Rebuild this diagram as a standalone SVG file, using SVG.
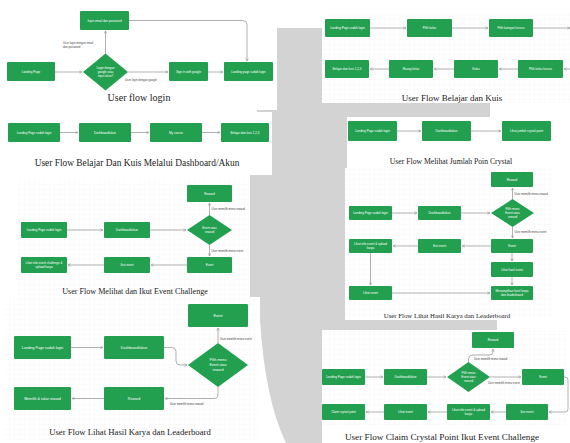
<svg xmlns="http://www.w3.org/2000/svg" width="570" height="443" viewBox="0 0 570 443">
<defs>
<pattern id="grid" width="5" height="5" patternUnits="userSpaceOnUse">
<path d="M5,0 V5 H0" fill="none" stroke="#ececec" stroke-width="0.4"/>
</pattern>
<marker id="arr" viewBox="0 0 6 6" refX="5.5" refY="3" markerWidth="3.2" markerHeight="3.2" markerUnits="userSpaceOnUse" orient="auto">
<path d="M0.5,0.5 L5.5,3 L0.5,5.5" fill="none" stroke="#8f8f8f" stroke-width="1"/>
</marker>
<style>
.box{fill:#23a04f}
.t{fill:#fff;font-family:"Liberation Sans","Noto Sans",Arial,sans-serif;font-size:3px;text-anchor:middle}
.t4{fill:#fff;font-family:"Liberation Sans","Noto Sans",Arial,sans-serif;font-size:3.6px;text-anchor:middle}
.lbl{fill:#444;font-family:"Liberation Sans","Noto Sans",Arial,sans-serif;font-size:2.8px}
.cap{fill:#222;font-family:"Liberation Serif","Times New Roman",serif;text-anchor:middle}
.e{fill:none;stroke:#8f8f8f;stroke-width:0.7;marker-end:url(#arr)}
.gp{fill:url(#grid)}
</style>
</defs>
<rect width="570" height="443" fill="#fff"/>
<path id="bg-shape" d="M277,28 H322 V103 H490 V117 H347 V168 H345 V320 H497 V330 H322 V443 H286 Q265,400 260,320 V297 H250 V175 H272 V112 H257 V103 H277 Z" fill="#d3d3d3"/>
<!-- panel backgrounds -->
<rect x="0" y="0" width="277" height="110" fill="#fff"/>
<rect x="322" y="0" width="248" height="103" fill="#fff"/>
<rect x="322" y="14" width="248" height="89" class="gp"/>
<rect x="0" y="112" width="272" height="63" fill="#fff"/>
<rect x="347" y="117" width="208" height="50" fill="#fff"/>
<rect x="0" y="175" width="250" height="122" fill="#fff"/>
<rect x="18" y="180" width="230" height="117" class="gp"/>
<rect x="345" y="168" width="207" height="152" fill="#fff"/>
<rect x="345" y="168" width="207" height="150" class="gp"/>
<rect x="0" y="297" width="259" height="146" fill="#fff"/>
<rect x="5" y="297" width="253" height="143" class="gp"/>
<rect x="322" y="330" width="248" height="113" fill="#fff"/>
<rect x="322" y="330" width="245" height="95" class="gp"/>

<g id="connectors">
<!-- P1 -->
<path class="e" d="M55,72 H82"/>
<path class="e" d="M105.5,53.5 V31"/>
<path class="e" d="M129,20.5 H243 Q247,20.5 247,24.5 V61"/>
<path class="e" d="M128,72 H168"/>
<path class="e" d="M208,72 H223"/>
<!-- P2 -->
<path class="e" d="M370,28 H406"/>
<path class="e" d="M452,28 H488"/>
<path class="e" d="M533,28 H570"/>
<path class="e" d="M570,69 H564"/>
<path class="e" d="M518,69 H499"/>
<path class="e" d="M454,69 H434"/>
<path class="e" d="M389,69 H370"/>
<!-- P3 -->
<path class="e" d="M60,132.5 H78"/>
<path class="e" d="M131,132.5 H149"/>
<path class="e" d="M202,132.5 H220"/>
<!-- P4 -->
<path class="e" d="M397,131 H421"/>
<path class="e" d="M471,131 H501"/>
<!-- P5 -->
<path class="e" d="M67,230 H103"/>
<path class="e" d="M150,230 H186"/>
<path class="e" d="M209.5,215 V203"/>
<path class="e" d="M209.5,245 V256"/>
<path class="e" d="M187,265 H151"/>
<path class="e" d="M104,265 H68"/>
<!-- P6 -->
<path class="e" d="M392,213 H417"/>
<path class="e" d="M461,213 H490"/>
<path class="e" d="M512.5,199 V188"/>
<path class="e" d="M512.5,227 V238"/>
<path class="e" d="M491,246 H462"/>
<path class="e" d="M418,246 H393"/>
<path class="e" d="M370.5,253 V285"/>
<path class="e" d="M512,253 V261"/>
<path class="e" d="M512,277 V285"/>
<path class="e" d="M392,293 H490"/>
<!-- P7 -->
<path class="e" d="M71,347.5 H103"/>
<path class="e" d="M164,347.5 H172 Q176,347.5 176,351.5 V361 Q176,365 180,365 H187"/>
<path class="e" d="M218,343 V328"/>
<path class="e" d="M218,387 V394 Q218,398.5 214,398.5 H165"/>
<path class="e" d="M104,398.5 H72"/>
<!-- P8 -->
<path class="e" d="M365,377 H383"/>
<path class="e" d="M427,377 H446"/>
<path class="e" d="M468.5,362 V359 Q468.5,355 472.5,355 H489 Q493,355 493,352 V349"/>
<path class="e" d="M490,377 H521"/>
<path class="e" d="M564,377 H565 Q568,377 568,380 V409 Q568,412 565,412 H549"/>
<path class="e" d="M506,412 H491"/>
<path class="e" d="M447,412 H428"/>
<path class="e" d="M384,412 H366"/>
</g>

<!-- Panel 1 -->
<g id="p1-landing"><rect class="box" x="7" y="62" width="48" height="19" rx="1"/><text class="t" x="31" y="73">Landing Page</text></g>
<g id="p1-decision"><polygon class="box" points="105.5,53.5 128,72 105.5,90.5 83,72"/><text class="t" x="105.5" y="69">Login dengan</text><text class="t" x="105.5" y="73">google atau</text><text class="t" x="105.5" y="77">input akun?</text></g>
<g id="p1-input"><rect class="box" x="80" y="11" width="49" height="19" rx="1"/><text class="t" x="104.5" y="21.5">Input email dan password</text></g>
<g id="p1-google"><rect class="box" x="169" y="62" width="39" height="19" rx="1"/><text class="t" x="188.5" y="73">Sign in with google</text></g>
<g id="p1-done"><rect class="box" x="224" y="62" width="49" height="19" rx="1"/><text class="t" x="248.5" y="73">Landing page sudah login</text></g>
<g id="p1-labels"><text class="lbl" x="63" y="44">User login dengan email</text><text class="lbl" x="63" y="48">dan password</text><text class="lbl" x="125" y="80.5">User login dengan google</text></g>
<text class="cap" x="139" y="101" font-size="10">User flow login</text>

<!-- Panel 2 -->
<g id="p2-landing"><rect class="box" x="325" y="19" width="45" height="18" rx="1"/><text class="t" x="347.5" y="29">Landing Page sudah login</text></g>
<g id="p2-kelas"><rect class="box" x="407" y="19" width="45" height="18" rx="1"/><text class="t" x="429.5" y="29">Pilih kelas</text></g>
<g id="p2-kategori"><rect class="box" x="489" y="19" width="44" height="18" rx="1"/><text class="t" x="511" y="29">Pilih kategori kursus</text></g>
<g id="p2-belajar"><rect class="box" x="325" y="60" width="44" height="18" rx="1"/><text class="t" x="347" y="70">Belajar dan kuis 1,2,3</text></g>
<g id="p2-ruang"><rect class="box" x="389" y="60" width="44" height="18" rx="1"/><text class="t" x="411" y="70">Ruang kelas</text></g>
<g id="p2-kelas2"><rect class="box" x="454" y="60" width="44" height="18" rx="1"/><text class="t" x="476" y="70">Kelas</text></g>
<g id="p2-kursus"><rect class="box" x="518" y="60" width="45" height="18" rx="1"/><text class="t" x="540.5" y="70">Pilih kelas kursus</text></g>
<text class="cap" x="452" y="101" font-size="9">User Flow Belajar dan Kuis</text>

<!-- Panel 3 -->
<g id="p3-landing"><rect class="box" x="8" y="123" width="52" height="19" rx="1"/><text class="t" x="34" y="133.5">Landing Page sudah login</text></g>
<g id="p3-dash"><rect class="box" x="79" y="123" width="52" height="19" rx="1"/><text class="t" x="105" y="133.5">Dashboard/akun</text></g>
<g id="p3-course"><rect class="box" x="150" y="123" width="52" height="19" rx="1"/><text class="t" x="176" y="133.5">My course</text></g>
<g id="p3-belajar"><rect class="box" x="221" y="123" width="48" height="19" rx="1"/><text class="t" x="245" y="133.5">Belajar dan kuis 1,2,3</text></g>
<text class="cap" x="137" y="166" font-size="9.4">User Flow Belajar Dan Kuis Melalui Dashboard/Akun</text>

<!-- Panel 4 -->
<g id="p4-landing"><rect class="box" x="348" y="121" width="49" height="20" rx="1"/><text class="t" x="372.5" y="132">Landing Page sudah login</text></g>
<g id="p4-dash"><rect class="box" x="422" y="121" width="49" height="20" rx="1"/><text class="t" x="446.5" y="132">Dashboard/akun</text></g>
<g id="p4-crystal"><rect class="box" x="502" y="121" width="49" height="20" rx="1"/><text class="t" x="526.5" y="132">Lihat jumlah crystal point</text></g>
<text class="cap" x="451" y="164" font-size="7.7">User Flow Melihat Jumlah Poin Crystal</text>

<!-- Panel 5 -->
<g id="p5-reward"><rect class="box" x="187" y="185" width="45" height="17" rx="1"/><text class="t" x="209.5" y="194.5">Reward</text></g>
<g id="p5-decision"><polygon class="box" points="209.5,215 232,230 209.5,245 187,230"/><text class="t" x="209.5" y="229">Event atau</text><text class="t" x="209.5" y="233">reward</text></g>
<g id="p5-landing"><rect class="box" x="21" y="222" width="46" height="16" rx="1"/><text class="t" x="44" y="231">Landing Page sudah login</text></g>
<g id="p5-dash"><rect class="box" x="104" y="222" width="46" height="16" rx="1"/><text class="t" x="127" y="231">Dashboard/akun</text></g>
<g id="p5-event"><rect class="box" x="187" y="257" width="45" height="16" rx="1"/><text class="t" x="209.5" y="266">Event</text></g>
<g id="p5-ikut"><rect class="box" x="104" y="257" width="46" height="16" rx="1"/><text class="t" x="127" y="266">Ikut event</text></g>
<g id="p5-info"><rect class="box" x="21" y="257" width="46" height="16" rx="1"/><text class="t" x="44" y="264">Lihat info event challenge &amp;</text><text class="t" x="44" y="268">upload karya</text></g>
<g id="p5-labels"><text class="lbl" x="211.5" y="209.5">User memilih menu reward</text><text class="lbl" x="211.5" y="251.5">User memilih menu event</text></g>
<text class="cap" x="135" y="294" font-size="8.1">User Flow Melihat dan Ikut Event Challenge</text>

<!-- Panel 6 -->
<g id="p6-reward"><rect class="box" x="491" y="172" width="42" height="15" rx="1"/><text class="t" x="512" y="180.5">Reward</text></g>
<g id="p6-decision"><polygon class="box" points="512.5,199 534,213 512.5,227 491,213"/><text class="t" x="512.5" y="210">Pilih menu</text><text class="t" x="512.5" y="214">Event atau</text><text class="t" x="512.5" y="218">reward</text></g>
<g id="p6-landing"><rect class="box" x="349" y="206" width="43" height="14" rx="1"/><text class="t" x="370.5" y="214">Landing Page sudah login</text></g>
<g id="p6-dash"><rect class="box" x="418" y="206" width="43" height="14" rx="1"/><text class="t" x="439.5" y="214">Dashboard/akun</text></g>
<g id="p6-event"><rect class="box" x="491" y="239" width="42" height="14" rx="1"/><text class="t" x="512" y="247">Event</text></g>
<g id="p6-ikut"><rect class="box" x="418" y="239" width="43" height="14" rx="1"/><text class="t" x="439.5" y="247">Ikut event</text></g>
<g id="p6-info"><rect class="box" x="349" y="239" width="43" height="14" rx="1"/><text class="t" x="370.5" y="245">Lihat info event &amp; upload</text><text class="t" x="370.5" y="249">karya</text></g>
<g id="p6-hasil"><rect class="box" x="491" y="262" width="42" height="15" rx="1"/><text class="t" x="512" y="270.5">Lihat hasil event</text></g>
<g id="p6-lihat"><rect class="box" x="349" y="286" width="43" height="14" rx="1"/><text class="t" x="370.5" y="294">Lihat event</text></g>
<g id="p6-tampil"><rect class="box" x="491" y="286" width="42" height="14" rx="1"/><text class="t" x="512" y="292">Menampilkan hasil karya</text><text class="t" x="512" y="296">dan leaderboard</text></g>
<g id="p6-labels"><text class="lbl" x="514.5" y="195">User memilih menu reward</text><text class="lbl" x="514.5" y="233">User memilih menu event</text></g>
<text class="cap" x="447" y="318" font-size="6.8">User Flow Lihat Hasil Karya dan Leaderboard</text>

<!-- Panel 7 -->
<g id="p7-event"><rect class="box" x="188" y="304" width="60" height="23" rx="1.2"/><text class="t4" x="218" y="316.5">Event</text></g>
<g id="p7-decision"><polygon class="box" points="218,343 248,365 218,387 188,365"/><text class="t4" x="218" y="361">Pilih menu</text><text class="t4" x="218" y="366">Event atau</text><text class="t4" x="218" y="371">reward</text></g>
<g id="p7-landing"><rect class="box" x="14" y="336" width="57" height="23" rx="1.2"/><text class="t4" x="42.5" y="348.5">Landing Page sudah login</text></g>
<g id="p7-dash"><rect class="box" x="104" y="336" width="60" height="23" rx="1.2"/><text class="t4" x="134" y="348.5">Dashboard/akun</text></g>
<g id="p7-reward"><rect class="box" x="104" y="387" width="60" height="23" rx="1.2"/><text class="t4" x="134" y="399.5">Reward</text></g>
<g id="p7-tukar"><rect class="box" x="14" y="387" width="57" height="23" rx="1.2"/><text class="t4" x="42.5" y="399.5">Memilih &amp; tukar reward</text></g>
<g id="p7-labels"><text class="lbl" x="220" y="340" font-size="3.2">User memilih menu event</text><text class="lbl" x="170" y="405" font-size="3.2">User memilih menu reward</text></g>
<text class="cap" x="130" y="435" font-size="8.7">User Flow Lihat Hasil Karya dan Leaderboard</text>

<!-- Panel 8 -->
<g id="p8-reward"><rect class="box" x="472" y="332" width="42" height="16" rx="1"/><text class="t" x="493" y="341">Reward</text></g>
<g id="p8-decision"><polygon class="box" points="468.5,362 490,377 468.5,392 447,377"/><text class="t" x="468.5" y="374">Pilih menu</text><text class="t" x="468.5" y="378">Event atau</text><text class="t" x="468.5" y="382">reward</text></g>
<g id="p8-landing"><rect class="box" x="322" y="369" width="43" height="16" rx="1"/><text class="t" x="343.5" y="378">Landing Page sudah login</text></g>
<g id="p8-dash"><rect class="box" x="384" y="369" width="43" height="16" rx="1"/><text class="t" x="405.5" y="378">Dashboard/akun</text></g>
<g id="p8-event"><rect class="box" x="522" y="369" width="42" height="16" rx="1"/><text class="t" x="543" y="378">Event</text></g>
<g id="p8-ikut"><rect class="box" x="506" y="404" width="42" height="16" rx="1"/><text class="t" x="527" y="413">Ikut event</text></g>
<g id="p8-info"><rect class="box" x="447" y="404" width="43" height="16" rx="1"/><text class="t" x="468.5" y="411">Lihat info event &amp; upload</text><text class="t" x="468.5" y="415">karya</text></g>
<g id="p8-lihat"><rect class="box" x="384" y="404" width="43" height="16" rx="1"/><text class="t" x="405.5" y="413">Lihat event</text></g>
<g id="p8-claim"><rect class="box" x="322" y="404" width="43" height="16" rx="1"/><text class="t" x="343.5" y="413">Claim crystal point</text></g>
<g id="p8-labels"><text class="lbl" x="474" y="359.5">User memilih menu reward</text><text class="lbl" x="488" y="384">User memilih menu event</text></g>
<text class="cap" x="442" y="440" font-size="9.2">User Flow Claim Crystal Point Ikut Event Challenge</text>
</svg>
